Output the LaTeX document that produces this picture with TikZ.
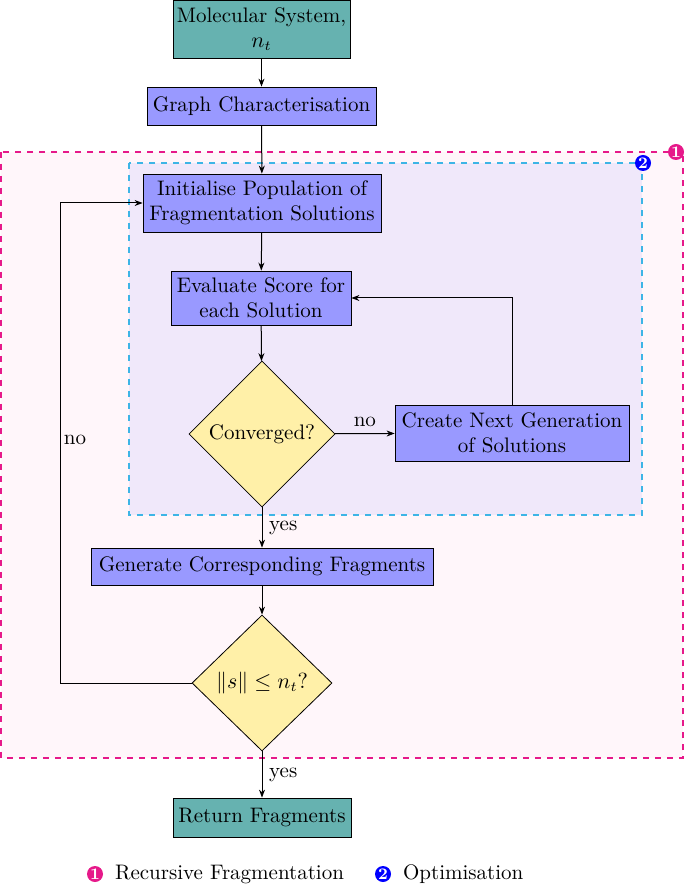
\documentclass[tikz,border=0pt]{standalone}
\usetikzlibrary{shapes.geometric,arrows.meta}
\definecolor{teal1}{HTML}{66B2B0}
\definecolor{blu}{HTML}{9999FF}
\definecolor{yel}{HTML}{FFF0A8}
\definecolor{pinkd}{HTML}{E6198A}
\definecolor{cyand}{HTML}{3DB5E6}
\definecolor{pinkf}{HTML}{FFF6FA}
\definecolor{lavf}{HTML}{F0E8FA}
\begin{document}
\begin{tikzpicture}[x=0.5pt,y=-0.5pt,
  box/.style={draw,rectangle,inner sep=0pt,align=center,font=\fontsize{10.5}{12.5}\selectfont},
  term/.style={box,fill=teal1},
  proc/.style={box,fill=blu},
  dec/.style={draw,diamond,fill=yel,inner sep=0pt,font=\fontsize{10.5}{12.5}\selectfont},
  arr/.style={-{Stealth[length=4pt,width=3pt]},line width=0.5pt},
  lbl/.style={font=\fontsize{10.5}{12.5}\selectfont},
  nmark/.style={circle,inner sep=0pt,minimum size=8pt,text=white,font=\fontsize{8}{8}\selectfont\bfseries}]
\useasboundingbox (0,0) rectangle (685,886);
\draw[pinkd,dashed,line width=0.8pt,fill=pinkf] (1,152) rectangle (683,758);
\draw[cyand,dashed,line width=0.8pt,fill=lavf] (129,163) rectangle (642,515);
\node[nmark,fill=pinkd] (m1) at (676,152) {1};
\node[nmark,fill=blue] (m2) at (643,163) {2};
\node[term,minimum width=88.5pt,minimum height=29pt] (ms) at (261.5,29) {Molecular System,\\ $n_t$};
\node[proc,minimum width=114.5pt,minimum height=19pt] (gc) at (261.5,106) {Graph Characterisation};
\node[proc,minimum width=119pt,minimum height=29pt] (ini) at (262,203) {Initialise Population of\\ Fragmentation Solutions};
\node[proc,minimum width=90pt,minimum height=27pt] (ev) at (261,298) {Evaluate Score for\\ each Solution};
\node[dec,minimum width=73pt,minimum height=73pt] (cv) at (262,434) {Converged?};
\node[proc,minimum width=117pt,minimum height=28pt] (cn) at (512,433) {Create Next Generation\\ of Solutions};
\node[proc,minimum width=171pt,minimum height=18.5pt] (gf) at (262,566.5) {Generate Corresponding Fragments};
\node[dec,minimum width=70pt,minimum height=68pt] (d2) at (262,683) {$\|s\|\le n_t?$};
\node[term,minimum width=89pt,minimum height=19.5pt] (rf) at (262,817.5) {Return Fragments};
\draw[arr] (ms) -- (gc);
\draw[arr] (gc) -- (ini);
\draw[arr] (ini) -- (ev);
\draw[arr] (ev) -- (cv);
\draw[arr] (cv) -- node[lbl,above]{no} (cn);
\draw[arr] (cn.north) |- (ev.east);
\draw[arr] (cv) -- node[lbl,right]{yes} (gf);
\draw[arr] (gf) -- (d2);
\draw[arr] (d2) -- node[lbl,right]{yes} (rf);
\coordinate (lp) at (60,683);
\draw[arr] (d2.west) -- (lp) |- (ini.west);
\node[lbl] (nol) at (75,440) {no};
\node[nmark,fill=pinkd] (l1) at (95,874) {1};
\node[lbl,anchor=west] (t1) at (108,874) {Recursive Fragmentation};
\node[nmark,fill=blue] (l2) at (383,874) {2};
\node[lbl,anchor=west] (t2) at (396,874) {Optimisation};
\end{tikzpicture}
\end{document}
